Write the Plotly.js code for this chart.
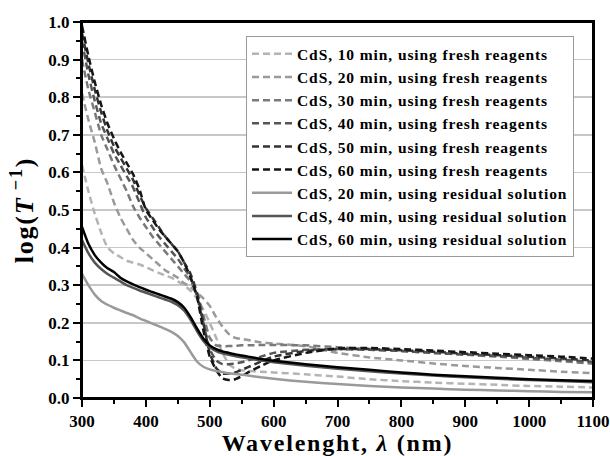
<!DOCTYPE html>
<html>
<head>
<meta charset="utf-8">
<script src="https://cdn.plot.ly/plotly-3.0.1.min.js"></script>
<style>
html,body{margin:0;padding:0;background:#fff;overflow:hidden;}
#wrap{position:relative;width:610px;height:456px;}
#chart{width:610px;height:456px;}
#frame{position:absolute;box-sizing:border-box;border:2px solid #000;pointer-events:none;}
.legendtext{letter-spacing:0.9px;}
.g-xtitle text,.g-ytitle text{letter-spacing:1.8px;}
</style>
</head>
<body>
<div id="wrap"><div id="chart"></div><div id="frame"></div></div>
<script>
// Wavelength (nm)
const wavelength = [300,310,320,330,340,350,360,370,380,390,400,410,420,430,440,450,460,470,480,490,500,510,520,530,540,550,560,580,600,650,700,750,800,850,900,950,1000,1050,1100];

// Fresh reagents (dashed)
const fresh10 = [0.62,0.55,0.49,0.44,0.40,0.385,0.375,0.365,0.36,0.355,0.348,0.34,0.333,0.326,0.32,0.31,0.30,0.285,0.265,0.235,0.20,0.16,0.12,0.09,0.078,0.074,0.072,0.07,0.068,0.063,0.057,0.05,0.045,0.041,0.038,0.035,0.032,0.03,0.028];
const fresh20 = [0.81,0.74,0.68,0.61,0.57,0.52,0.48,0.45,0.42,0.40,0.385,0.37,0.355,0.34,0.33,0.32,0.305,0.295,0.28,0.265,0.245,0.215,0.19,0.17,0.16,0.157,0.154,0.148,0.145,0.138,0.12,0.108,0.10,0.092,0.085,0.08,0.075,0.07,0.066];
const fresh30 = [0.90,0.82,0.76,0.70,0.66,0.62,0.585,0.55,0.51,0.48,0.455,0.43,0.41,0.39,0.37,0.35,0.33,0.31,0.28,0.22,0.16,0.14,0.138,0.138,0.139,0.14,0.14,0.141,0.141,0.14,0.135,0.13,0.125,0.12,0.115,0.11,0.104,0.098,0.091];
const fresh40 = [0.95,0.86,0.79,0.73,0.69,0.65,0.62,0.59,0.56,0.52,0.48,0.455,0.43,0.41,0.39,0.37,0.345,0.32,0.27,0.20,0.13,0.10,0.09,0.09,0.092,0.095,0.10,0.11,0.12,0.128,0.13,0.128,0.125,0.12,0.116,0.112,0.107,0.102,0.096];
const fresh50 = [0.97,0.89,0.82,0.76,0.71,0.67,0.64,0.61,0.58,0.54,0.505,0.48,0.455,0.43,0.41,0.39,0.36,0.33,0.28,0.20,0.12,0.08,0.065,0.065,0.068,0.075,0.082,0.097,0.11,0.125,0.13,0.13,0.127,0.123,0.118,0.114,0.11,0.105,0.10];
const fresh60 = [0.99,0.91,0.84,0.78,0.73,0.69,0.655,0.625,0.595,0.555,0.50,0.475,0.45,0.43,0.41,0.39,0.36,0.32,0.27,0.18,0.11,0.075,0.052,0.048,0.05,0.058,0.068,0.085,0.10,0.12,0.132,0.133,0.13,0.126,0.122,0.118,0.114,0.11,0.105];

// Residual solution (solid)
const resid20 = [0.33,0.30,0.275,0.258,0.248,0.24,0.233,0.226,0.22,0.212,0.205,0.198,0.191,0.184,0.176,0.165,0.148,0.122,0.097,0.083,0.076,0.072,0.069,0.066,0.064,0.062,0.06,0.055,0.051,0.043,0.037,0.032,0.028,0.025,0.022,0.02,0.018,0.016,0.015];
const resid40 = [0.42,0.385,0.36,0.343,0.33,0.32,0.31,0.30,0.293,0.286,0.28,0.274,0.268,0.262,0.256,0.247,0.232,0.208,0.178,0.152,0.135,0.125,0.119,0.115,0.111,0.108,0.105,0.10,0.095,0.086,0.078,0.071,0.065,0.06,0.055,0.051,0.048,0.045,0.042];
const resid60 = [0.455,0.41,0.38,0.36,0.345,0.335,0.32,0.31,0.302,0.295,0.288,0.282,0.276,0.27,0.264,0.255,0.24,0.215,0.185,0.158,0.14,0.13,0.124,0.12,0.116,0.113,0.11,0.104,0.099,0.09,0.082,0.075,0.068,0.062,0.058,0.054,0.05,0.047,0.045];

const seriesNames = [
  'CdS, 10 min, using fresh reagents',
  'CdS, 20 min, using fresh reagents',
  'CdS, 30 min, using fresh reagents',
  'CdS, 40 min, using fresh reagents',
  'CdS, 50 min, using fresh reagents',
  'CdS, 60 min, using fresh reagents',
  'CdS, 20 min, using residual solution',
  'CdS, 40 min, using residual solution',
  'CdS, 60 min, using residual solution'
];
const seriesValues = [fresh10, fresh20, fresh30, fresh40, fresh50, fresh60, resid20, resid40, resid60];
const seriesColors = ['#b4b4b4','#9a9a9a','#7a7a7a','#555555','#333333','#151515','#9a9a9a','#555555','#000000'];
const seriesDash = ['7px,4px','7px,4px','7px,4px','7px,4px','7px,4px','7px,4px','solid','solid','solid'];

const xTicks = [300,400,500,600,700,800,900,1000,1100];
const yTicks = [0.0,0.1,0.2,0.3,0.4,0.5,0.6,0.7,0.8,0.9,1.0];

const FONT = 'Liberation Serif, Times New Roman, serif';

const traces = seriesValues.map((vals, i) => ({
  x: wavelength,
  y: vals,
  type: 'scatter',
  mode: 'lines',
  name: seriesNames[i],
  line: {color: seriesColors[i], width: 2.5, dash: seriesDash[i], shape: 'spline', smoothing: 0.5}
}));

const layout = {
  width: 610,
  height: 456,
  margin: {l: 82, r: 17, t: 22, b: 58},
  paper_bgcolor: '#ffffff',
  plot_bgcolor: '#ffffff',
  font: {family: FONT, size: 17, color: '#000', weight: 'bold'},
  showlegend: true,
  legend: {
    x: 0.321, y: 0.962, xanchor: 'left', yanchor: 'top',
    bgcolor: '#ffffff', bordercolor: '#9a9a9a', borderwidth: 1,
    font: {family: FONT, size: 15.5, color: '#000', weight: 'bold'},
    itemwidth: 40, tracegroupgap: 0
  },
  xaxis: {
    range: [300, 1100],
    tickvals: xTicks,
    ticktext: xTicks.map(String),
    ticks: 'outside', ticklen: 7, tickwidth: 2, tickcolor: '#000',
    minor: {dtick: 50, tick0: 300, ticks: 'outside', ticklen: 4, tickwidth: 2, tickcolor: '#000', showgrid: false},
    showline: true, mirror: true, linewidth: 2, linecolor: '#000',
    showgrid: false, zeroline: false, ticklabeloverflow: 'allow',
    tickfont: {family: FONT, size: 17, color: '#000', weight: 'bold'},
    title: {text: '\u00a0\u00a0\u00a0\u00a0Wavelenght, <i>λ</i> (nm)', font: {family: FONT, size: 24, color: '#000', weight: 'bold'}, standoff: 13}
  },
  yaxis: {
    range: [0, 1],
    tickvals: yTicks,
    ticktext: yTicks.map(v => v.toFixed(1)),
    ticks: 'outside', ticklen: 7, tickwidth: 2, tickcolor: '#000',
    minor: {dtick: 0.05, tick0: 0, ticks: 'outside', ticklen: 4, tickwidth: 2, tickcolor: '#000', showgrid: false},
    showline: true, mirror: true, linewidth: 2, linecolor: '#000',
    showgrid: true, gridcolor: '#c8c8c8', gridwidth: 1.5, zeroline: false,
    tickfont: {family: FONT, size: 17, color: '#000', weight: 'bold'},
    title: {text: 'log(<i>T</i><sup> −1</sup>)', font: {family: FONT, size: 26, color: '#000', weight: 'bold'}, standoff: 7}
  }
};

const gd = document.getElementById('chart');
Plotly.newPlot(gd, traces, layout, {displayModeBar: false, staticPlot: true}).then(() => {
  // frame around the plot area, placed from Plotly's own computed plot size
  const s = gd._fullLayout._size;
  const f = document.getElementById('frame');
  f.style.left = (s.l - 1) + 'px';
  f.style.top = (s.t - 1) + 'px';
  f.style.width = (s.w + 2) + 'px';
  f.style.height = (s.h + 2) + 'px';
});
</script>
</body>
</html>
